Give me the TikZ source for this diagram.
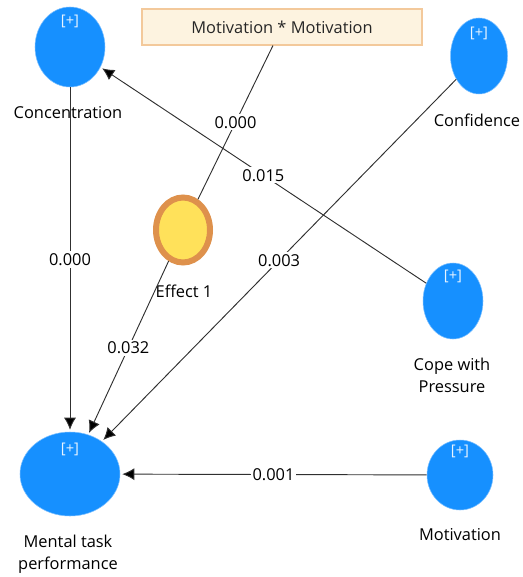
\documentclass[tikz,border=0pt]{standalone}
\usepackage{fontspec}
\setmainfont{Open Sans}
\usetikzlibrary{shapes,arrows.meta}

\definecolor{lvblue}{HTML}{1690FF}
\definecolor{lvrim}{HTML}{7CC0FF}
\definecolor{boxfill}{HTML}{FDF3E0}
\definecolor{boxline}{HTML}{F3C99B}
\definecolor{effill}{HTML}{FFE15A}
\definecolor{efline}{HTML}{DE914C}
\definecolor{pathgray}{HTML}{303030}

\tikzset{
  lv/.style={shape=ellipse,fill=lvblue,draw=lvrim,line width=0.4pt,inner sep=0pt},
  plus/.style={text=white!90!lvblue,font=\fontsize{11}{12}\selectfont,inner sep=0pt},
  lvname/.style={font=\fontsize{12.3}{16.5}\selectfont,align=center,inner sep=0pt},
  coef/.style={fill=white,font=\fontsize{12.3}{14}\selectfont,inner sep=1.5pt},
  pline/.style={draw=pathgray,line width=0.7pt},
  parrow/.style={pline,-{Latex[length=9pt,width=9pt]},shorten >=1.5pt}
}

\begin{document}
\begin{tikzpicture}[x=0.75pt,y=-0.75pt]
\useasboundingbox (0,0) rectangle (522,577);

% latent variables
\node[lv,minimum width=52.5pt,minimum height=60pt] (conc) at (70,47) {};
\node[lv,minimum width=42.75pt,minimum height=57pt] (conf) at (479,56) {};
\node[lv,minimum width=45pt,minimum height=57pt] (cope) at (453,301) {};
\node[lv,minimum width=75pt,minimum height=63pt] (mtp) at (70,474) {};
\node[lv,minimum width=49.5pt,minimum height=52.5pt] (moti) at (460,475) {};

\node[plus] (conc-p) at (70,21) {[+]};
\node[plus] (conf-p) at (479,33) {[+]};
\node[plus] (cope-p) at (453,276) {[+]};
\node[plus] (mtp-p) at (70,449) {[+]};
\node[plus] (moti-p) at (460,451) {[+]};

% interaction term and moderating effect
\node[draw=boxline,fill=boxfill,line width=0.8pt,minimum width=210pt,minimum height=27pt,inner sep=0pt,font=\fontsize{12.3}{14}\selectfont,text=black!85] (inter) at (282,27) {Motivation * Motivation};
\node[shape=ellipse,fill=effill,draw=efline,line width=4.5pt,minimum width=40.5pt,minimum height=48.75pt,inner sep=0pt] (eff) at (183,230) {};

% names
\node[lvname] (conc-n) at (68,113) {Concentration};
\node[lvname] (conf-n) at (477,120) {Confidence};
\node[lvname] (cope-n) at (452,375) {Cope with\\Pressure};
\node[lvname] (mtp-n) at (68,554) {Mental task\\performance};
\node[lvname] (moti-n) at (460,535) {Motivation};
\node[lvname] (eff-n) at (184,291) {Effect 1};

% paths
\path [parrow] (conc) edge node[coef] {0.000} (mtp);
\path [pline] (inter) edge node[coef] {0.000} (eff);
\path [parrow] (eff) edge node[coef] {0.032} (mtp);
\path [parrow] (cope) edge node[coef] {0.015} (conc);
\path [parrow] (conf) edge node[coef] {0.003} (mtp);
\path [parrow] (moti) edge node[coef] {0.001} (mtp);
\end{tikzpicture}
\end{document}
